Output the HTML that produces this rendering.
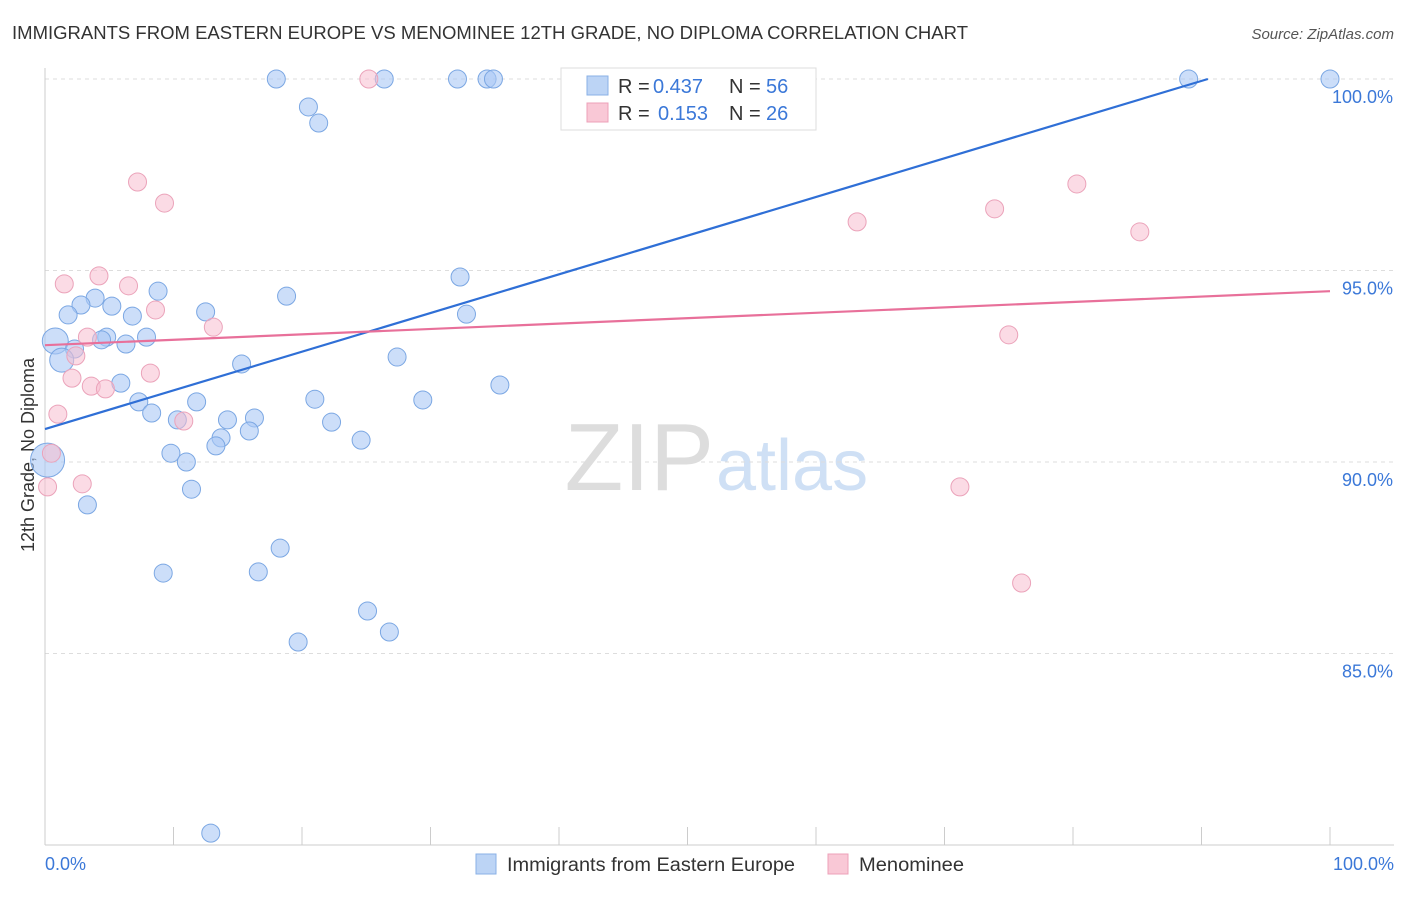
<!DOCTYPE html>
<html><head><meta charset="utf-8"><style>
body{margin:0;background:#fff;font-family:"Liberation Sans",sans-serif;}
svg text{font-family:"Liberation Sans",sans-serif;}
</style></head><body>
<svg id="c" width="1406" height="892">
<text x="12" y="39" font-size="18" fill="#333" textLength="956" lengthAdjust="spacingAndGlyphs">IMMIGRANTS FROM EASTERN EUROPE VS MENOMINEE 12TH GRADE, NO DIPLOMA CORRELATION CHART</text>
<text x="1394" y="39" font-size="15" fill="#555" text-anchor="end" font-style="italic">Source: ZipAtlas.com</text>
<text x="714" y="490" font-size="96" fill="#ddd" text-anchor="end" font-family="Liberation Serif">ZIP</text>
<text x="716" y="490" font-size="72" fill="#cfe0f5">atlas</text>
<text transform="translate(34,455) rotate(-90)" font-size="18" fill="#333" text-anchor="middle">12th Grade, No Diploma</text>
<g id="grid"></g><g id="marks"></g>
<g>
<rect x="561" y="68" width="255" height="62" fill="#fff" stroke="#ddd"/>
<rect x="587" y="76" width="21" height="19" fill="#bcd4f5" stroke="#8ab0e6"/>
<rect x="587" y="103" width="21" height="19" fill="#f9c8d6" stroke="#eda0b8"/>
<text x="618" y="93" font-size="20" fill="#333">R =</text>
<text x="653" y="93" font-size="20" fill="#3b78d8">0.437</text>
<text x="729" y="93" font-size="20" fill="#333">N =</text>
<text x="766" y="93" font-size="20" fill="#3b78d8">56</text>
<text x="618" y="120" font-size="20" fill="#333">R =</text>
<text x="658" y="120" font-size="20" fill="#3b78d8">0.153</text>
<text x="729" y="120" font-size="20" fill="#333">N =</text>
<text x="766" y="120" font-size="20" fill="#3b78d8">26</text>
</g>
<g>
<rect x="476" y="854" width="20" height="20" fill="#bcd4f5" stroke="#8ab0e6"/>
<text x="507" y="871" font-size="19" fill="#333" textLength="288" lengthAdjust="spacingAndGlyphs">Immigrants from Eastern Europe</text>
<rect x="828" y="854" width="20" height="20" fill="#f9c8d6" stroke="#eda0b8"/>
<text x="859" y="871" font-size="19" fill="#333" textLength="105" lengthAdjust="spacingAndGlyphs">Menominee</text>
</g>
</svg>
<script>
const blueX=[18.0,26.4,32.1,34.4,34.9,89.0,100,50.0,20.5,21.3,32.3,18.8,8.8,3.9,2.8,5.2,1.8,6.8,12.5,32.8,4.8,7.9,4.4,6.3,0.8,2.3,1.3,15.3,27.4,5.9,35.4,7.3,11.8,21.0,29.4,8.3,10.3,14.2,16.3,22.3,15.9,13.7,13.3,24.6,0.2,9.8,11.0,11.4,3.3,18.3,9.2,16.6,25.1,26.8,19.7,12.9];
const blueY=[100,100,100,100,100,100,100,100,99.27,98.85,94.83,94.33,94.46,94.28,94.10,94.07,93.84,93.81,93.92,93.86,93.26,93.26,93.19,93.08,93.16,92.95,92.66,92.56,92.74,92.06,92.01,91.57,91.57,91.64,91.62,91.28,91.10,91.10,91.15,91.04,90.81,90.63,90.42,90.57,90.05,90.23,90.0,89.29,88.88,87.75,87.10,87.13,86.11,85.56,85.30,80.31];
const blueR=[9,9,9,9,9,9,9,9,9,9,9,9,9,9,9,9,9,9,9,9,9,9,9,9,13,9,12,9,9,9,9,9,9,9,9,9,9,9,9,9,9,9,9,9,17,9,9,9,9,9,9,9,9,9,9,9];
const pinkX=[25.2,7.2,9.3,63.2,73.9,80.3,85.2,4.2,1.5,6.5,8.6,13.1,3.3,75.0,2.4,8.2,2.1,3.6,4.7,1.0,10.8,0.5,2.9,0.2,71.2,76.0];
const pinkY=[100,97.31,96.76,96.27,96.61,97.26,96.01,94.86,94.65,94.60,93.97,93.52,93.26,93.32,92.77,92.32,92.19,91.98,91.91,91.25,91.07,90.23,89.43,89.35,89.35,86.84];
const blueLine=[90.86,0.101];
const pinkLine=[93.05,0.0141];
const yTicks=[100,95,90,85];
const xTickLabels=["0.0%","100.0%"];
const sx=v=>45+v*12.85, sy=v=>79+(100-v)*38.3;
const NS="http://www.w3.org/2000/svg";
function mk(t,a,p){const e=document.createElementNS(NS,t);for(const k in a)e.setAttribute(k,a[k]);p.appendChild(e);return e;}
const g=document.getElementById('grid'),m=document.getElementById('marks');
yTicks.forEach(t=>{const l=mk('line',{x1:45,x2:1394,y1:sy(t),y2:sy(t),stroke:'#ddd','stroke-dasharray':'4,4'},g);


const tx=mk('text',{x:1393,y:sy(t)+24,'font-size':18,fill:'#3b78d8','text-anchor':'end'},g);tx.textContent=t.toFixed(1)+'%';

});
mk('line',{x1:45,x2:45,y1:68,y2:845,stroke:'#ccc'},g);
mk('line',{x1:45,x2:1394,y1:845,y2:845,stroke:'#ccc'},g);
for(let i=0;i<=10;i++){const x=sx(i*10);mk('line',{x1:x,x2:x,y1:827,y2:845,stroke:'#ccc'},g);}
const xl=mk('text',{x:45,y:870,'font-size':18,fill:'#3b78d8'},g);xl.textContent=xTickLabels[0];


const xr=mk('text',{x:1394,y:870,'font-size':18,fill:'#3b78d8','text-anchor':'end'},g);xr.textContent=xTickLabels[1];


blueX.forEach((x,i)=>{const c=mk('circle',{cx:sx(x),cy:sy(blueY[i]),r:blueR[i],fill:'rgba(170,200,245,0.6)',stroke:'#7ba7e3','stroke-width':1},m);

});
pinkX.forEach((x,i)=>{const c=mk('circle',{cx:sx(x),cy:sy(pinkY[i]),r:9,fill:'rgba(248,190,208,0.55)',stroke:'#eba3ba','stroke-width':1},m);

});
const bxEnd=(100-blueLine[0])/blueLine[1];
const bl=mk('line',{x1:sx(0),y1:sy(blueLine[0]),x2:sx(bxEnd),y2:sy(100),stroke:'#2f6fd6','stroke-width':2.2},m);


const pl=mk('line',{x1:sx(0),y1:sy(pinkLine[0]),x2:sx(100),y2:sy(pinkLine[0]+100*pinkLine[1]),stroke:'#e8709a','stroke-width':2.2},m);


</script>
</body></html>
